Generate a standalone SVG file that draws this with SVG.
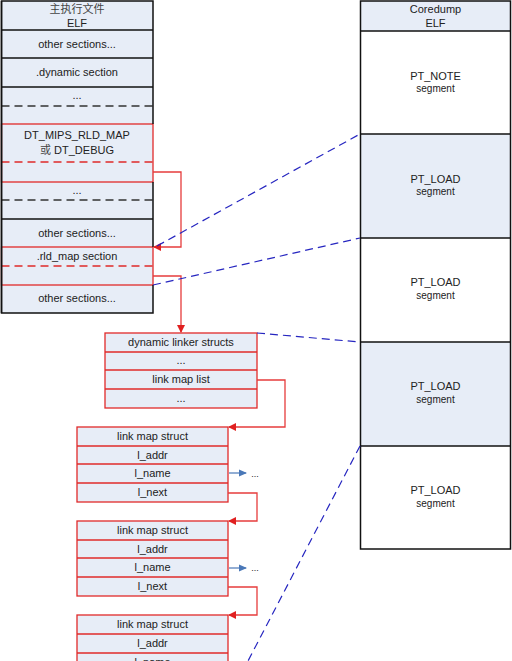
<svg xmlns="http://www.w3.org/2000/svg" width="512" height="661" viewBox="0 0 512 661">
<defs>
<style>
.t{font-family:"Liberation Sans",Arial,sans-serif;font-size:11px;fill:#222;text-anchor:middle}
.s{font-size:10px}
.cjk{font-family:"Noto Sans CJK SC","Liberation Serif",serif;font-size:11px;fill:#444;text-anchor:middle}
.fill{fill:#e7edf7}
.blk{stroke:#111;stroke-width:1.5;fill:none}
.blkd{stroke:#333;stroke-width:1.5;fill:none;stroke-dasharray:8,5}
.red{stroke:#e02a2a;stroke-width:1.3;fill:none}
.redd{stroke:#e02a2a;stroke-width:1.3;fill:none;stroke-dasharray:8,5}
.rbox{fill:#e7edf7;stroke:#e02a2a;stroke-width:1.3}
.conn{stroke:#e63c3c;stroke-width:1.3;fill:none}
.bd{stroke:#2626c0;stroke-width:1.2;fill:none;stroke-dasharray:8,5}
.ba{stroke:#4a78b8;stroke-width:1.2;fill:none}
</style>
<marker id="ra" markerWidth="8" markerHeight="8" refX="7" refY="4" orient="auto" markerUnits="userSpaceOnUse">
<path d="M0,0 L8,4 L0,8 Z" fill="#e02020"/>
</marker>
<marker id="bla" markerWidth="8" markerHeight="8" refX="7" refY="4" orient="auto" markerUnits="userSpaceOnUse">
<path d="M0,0.5 L8,4 L0,7.5 Z" fill="#4a78b8"/>
</marker>
</defs>
<rect width="512" height="661" fill="#fff"/>

<g id="main-elf">
<rect x="1.5" y="1" width="151.5" height="312" class="fill"/>
<line x1="1.5" y1="30" x2="153" y2="30" class="blk"/>
<line x1="1.5" y1="58" x2="153" y2="58" class="blk"/>
<line x1="1.5" y1="87" x2="153" y2="87" class="blk"/>
<line x1="1.5" y1="106" x2="153" y2="106" class="blkd"/>
<line x1="1.5" y1="200" x2="153" y2="200" class="blkd"/>
<line x1="1.5" y1="219" x2="153" y2="219" class="blk"/>
<rect x="1.5" y="124" width="151.5" height="58" class="rbox"/>
<line x1="1.5" y1="162" x2="153" y2="162" class="redd"/>
<rect x="1.5" y="247" width="151.5" height="38" class="rbox"/>
<line x1="1.5" y1="266" x2="153" y2="266" class="redd"/>
<path d="M153,124 V1 H1.5 V313 H153 V285 M153,182 V247" class="blk" stroke-width="2"/>
<path d="M1.5,1 V313" class="blk" stroke-width="2"/>
<text x="77" y="13" class="cjk">主执行文件</text>
<text x="77" y="27" class="t">ELF</text>
<text x="77" y="48" class="t">other sections...</text>
<text x="77" y="76" class="t">.dynamic section</text>
<text x="77" y="99" class="t">...</text>
<text x="77" y="139" class="t">DT_MIPS_RLD_MAP</text>
<text x="77" y="154" class="t"><tspan font-family="Noto Sans CJK SC,serif" fill="#444">或</tspan> DT_DEBUG</text>
<text x="77" y="194" class="t">...</text>
<text x="77" y="237" class="t">other sections...</text>
<text x="77" y="260" class="t">.rld_map section</text>
<text x="77" y="302" class="t">other sections...</text>
</g>

<g id="coredump-elf">
<rect x="360.5" y="1" width="150" height="30" class="fill"/>
<rect x="360.5" y="134" width="150" height="104" class="fill"/>
<rect x="360.5" y="342" width="150" height="104" class="fill"/>
<rect x="360.5" y="1" width="150" height="548" class="blk"/>
<line x1="360.5" y1="31" x2="510.5" y2="31" class="blk"/>
<line x1="360.5" y1="134" x2="510.5" y2="134" class="blk" stroke-width="2"/>
<line x1="360.5" y1="238" x2="510.5" y2="238" class="blk" stroke-width="2"/>
<line x1="360.5" y1="342" x2="510.5" y2="342" class="blk" stroke-width="2"/>
<line x1="360.5" y1="446" x2="510.5" y2="446" class="blk" stroke-width="2"/>
<text x="435.5" y="13" class="t">Coredump</text>
<text x="435.5" y="27" class="t">ELF</text>
<text x="435.5" y="80" class="t">PT_NOTE</text>
<text x="435.5" y="92" class="t s">segment</text>
<text x="435.5" y="183" class="t">PT_LOAD</text>
<text x="435.5" y="195" class="t s">segment</text>
<text x="435.5" y="286" class="t">PT_LOAD</text>
<text x="435.5" y="299" class="t s">segment</text>
<text x="435.5" y="390" class="t">PT_LOAD</text>
<text x="435.5" y="403" class="t s">segment</text>
<text x="435.5" y="494" class="t">PT_LOAD</text>
<text x="435.5" y="507" class="t s">segment</text>
</g>

<g id="dl-structs">
<rect x="105" y="333" width="152" height="75" class="rbox"/>
<line x1="105" y1="352" x2="257" y2="352" class="red"/>
<line x1="105" y1="370" x2="257" y2="370" class="red"/>
<line x1="105" y1="389" x2="257" y2="389" class="red"/>
<text x="181" y="346" class="t">dynamic linker structs</text>
<text x="181" y="364" class="t">...</text>
<text x="181" y="383" class="t">link map list</text>
<text x="181" y="402" class="t">...</text>
</g>

<g id="link-map-1">
<rect x="77" y="427" width="151" height="75" class="rbox"/>
<line x1="77" y1="446" x2="228" y2="446" class="red"/>
<line x1="77" y1="464" x2="228" y2="464" class="red"/>
<line x1="77" y1="483" x2="228" y2="483" class="red"/>
<text x="152.5" y="440" class="t">link map struct</text>
<text x="152.5" y="459" class="t">l_addr</text>
<text x="152.5" y="477" class="t">l_name</text>
<text x="152.5" y="496" class="t">l_next</text>
<text x="255" y="477" class="t" style="font-size:9px" fill="#555">...</text>
</g>

<g id="link-map-2">
<rect x="77" y="521" width="151" height="75" class="rbox"/>
<line x1="77" y1="540" x2="228" y2="540" class="red"/>
<line x1="77" y1="558" x2="228" y2="558" class="red"/>
<line x1="77" y1="577" x2="228" y2="577" class="red"/>
<text x="152.5" y="534" class="t">link map struct</text>
<text x="152.5" y="553" class="t">l_addr</text>
<text x="152.5" y="571" class="t">l_name</text>
<text x="152.5" y="590" class="t">l_next</text>
<text x="255" y="571" class="t" style="font-size:9px" fill="#555">...</text>
</g>

<g id="link-map-3">
<rect x="77" y="615" width="151" height="60" class="rbox"/>
<line x1="77" y1="634" x2="228" y2="634" class="red"/>
<line x1="77" y1="653" x2="228" y2="653" class="red"/>
<text x="152.5" y="628" class="t">link map struct</text>
<text x="152.5" y="647" class="t">l_addr</text>
<text x="152.5" y="666" class="t">l_name</text>
</g>

<g id="connectors">
<path d="M153,172 H181 V247 H154" class="conn" marker-end="url(#ra)"/>
<path d="M153,276 H181 V332" class="conn" marker-end="url(#ra)"/>
<path d="M257,380 H285 V427 H229" class="conn" marker-end="url(#ra)"/>
<path d="M228,493 H257 V521 H229" class="conn" marker-end="url(#ra)"/>
<path d="M228,587 H257 V615 H229" class="conn" marker-end="url(#ra)"/>
<path d="M229,473 H246" class="ba" marker-end="url(#bla)"/>
<path d="M229,568 H246" class="ba" marker-end="url(#bla)"/>
<path d="M157,246 L360,134" class="bd"/>
<path d="M153,285 L360,238" class="bd"/>
<path d="M257,333 L360,342" class="bd"/>
<path d="M360,446 L248,661" class="bd"/>
</g>
</svg>
